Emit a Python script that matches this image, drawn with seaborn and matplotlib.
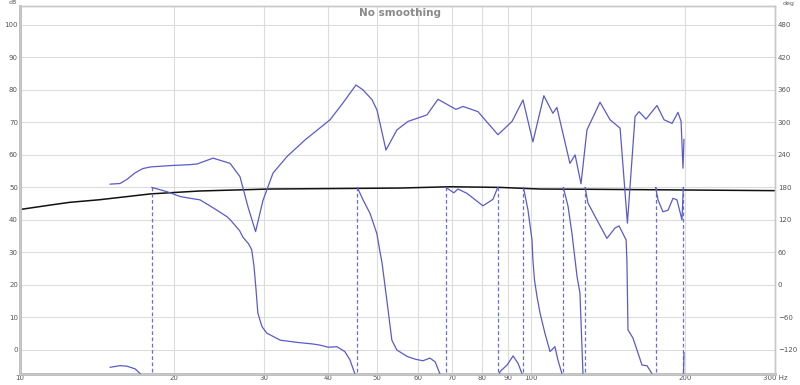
import numpy as np
import pandas as pd
import matplotlib
matplotlib.use("Agg")
import matplotlib.pyplot as plt
from matplotlib.ticker import FixedLocator, FixedFormatter, NullLocator
import seaborn as sns

# SPL response (left axis, dB)
spl_freq = [15.0, 15.7, 16.2, 16.8, 17.4, 18.0, 19.65, 21.5, 22.2, 23.86, 25.76, 26.94,
            27.93, 28.9, 29.88, 31.26, 33.3, 36.11, 40.42, 42.85, 45.43, 46.88, 48.83,
            49.94, 52.0, 54.64, 57.43, 62.56, 65.73, 71.28, 73.57, 78.7, 86.13, 91.75,
            96.41, 100.8, 105.9, 110.3, 112.3, 119.1, 121.9, 125.2, 128.6, 136.4, 142.7,
            149.3, 154.3, 159.7, 162.6, 167.8, 176.3, 182.0, 188.7, 193.8, 196.5, 198.2, 199.1]
spl_db = [51.0, 51.2, 52.5, 54.5, 55.8, 56.3, 56.7, 57.0, 57.2, 59.0, 57.4, 53.3,
          44.0, 36.4, 46.0, 54.4, 59.5, 64.6, 70.8, 76.0, 81.5, 80.0, 77.0,
          73.8, 61.5, 67.7, 70.3, 72.3, 77.1, 74.0, 74.9, 73.3, 66.2, 70.3,
          76.9, 64.0, 78.2, 72.8, 74.6, 57.4, 60.0, 51.1, 67.7, 76.2, 70.8,
          68.2, 39.0, 71.8, 73.3, 71.0, 75.2, 70.8, 69.7, 73.1, 70.3, 55.9, 64.8]

# Target / reference trace (black)
ref_freq = [10.0, 11.5, 12.5, 14.3, 18.0, 22.5, 30.8, 55.4, 69.4, 86.9, 104.1, 136.4, 300.0]
ref_db = [43.2, 44.6, 45.4, 46.2, 48.0, 48.9, 49.5, 49.8, 50.2, 50.0, 49.5, 49.4, 49.0]

# Wrapped phase (right axis, deg); a repeated frequency marks a wrap
phase_freq = [15.0, 15.7, 16.2, 16.8, 17.2, 18.1,
              18.1, 19.4, 20.6, 21.5, 22.5, 23.9, 25.4, 25.8, 26.9, 27.3, 28.0, 28.4, 28.7,
              28.96, 29.2, 29.75, 30.4, 32.3, 34.8, 37.4, 38.6, 40.1, 41.7, 43.2, 44.2, 45.2, 45.7,
              45.7, 46.9, 48.4, 49.9, 50.6, 51.1, 52.2, 53.4, 54.6, 57.2, 59.3, 61.4, 63.4, 64.9, 66.3, 68.1,
              68.1, 70.6, 71.9, 74.9, 80.5, 84.2, 85.7, 86.0,
              86.0, 86.9, 89.7, 92.2, 94.3, 96.0, 96.6,
              96.6, 98.6, 100.4, 100.8, 101.5, 102.7, 104.1, 106.4, 108.9, 111.3, 112.8, 114.9, 115.6,
              115.6, 118.1, 120.2, 121.9, 123.0, 124.6, 126.3, 127.5,
              127.5, 129.2, 134.5, 140.7, 145.9, 148.6, 153.4, 154.0, 154.7, 158.2, 161.1, 164.8, 168.5, 172.4, 175.2,
              175.2, 177.1, 181.1, 185.3, 189.5, 192.9, 197.3, 198.5,
              198.5, 199.1]
phase_deg = [-152, -149, -150, -155, -164, -180,
             180, 172, 163, 160, 157, 142, 126, 120, 100, 88, 76, 65, 34,
             -9, -52, -77, -89, -102, -106, -109, -111, -115, -114, -123, -138, -164, -180,
             180, 157, 132, 95, 62, 40, -28, -102, -120, -132, -137, -140, -135, -142, -164, -180,
             180, 170, 177, 169, 146, 158, 176, 180,
             -180, -160, -148, -131, -145, -164, -180,
             180, 138, 83, 46, 10, -22, -52, -89, -123, -114, -138, -164, -180,
             180, 145, 95, 46, 15, -15, -164, -180,
             180, 151, 120, 86, 105, 109, 83, 40, -83, -98, -120, -148, -149, -164, -180,
             180, 157, 135, 138, 160, 157, 120, 180,
             -180, -125]

wrap_freq = [18.1, 45.7, 68.1, 86.0, 96.6, 115.6, 127.5, 175.2, 198.5]

x_ticks = [10, 20, 30, 40, 50, 60, 70, 80, 90, 100, 200, 300]
x_labels = ["10", "20", "30", "40", "50", "60", "70", "80", "90", "100", "200", "300 Hz"]
db_ticks = list(range(0, 101, 10))
deg_ticks = list(range(-120, 481, 60))

sns.set_style("white")
plt.rcParams['font.family'] = ['DejaVu Sans']

blue = "#5a5acd"
grid_c = "#dcdcdc"
txt_c = "#555555"

fig = plt.figure(figsize=(8, 3.85), dpi=100)
ax = fig.add_axes([20 / 800, 11 / 385, 755 / 800, 368 / 385])
ax2 = ax.twinx()

# wrap markers
for f in wrap_freq:
    ax2.plot([f, f], [180, -200], color="#6b6bdd", lw=0.9, ls=(0, (3, 2)))

df_phase = pd.DataFrame({"f": phase_freq, "deg": phase_deg})
df_phase["seg"] = (df_phase["f"].diff() == 0).cumsum()
sns.lineplot(data=df_phase, x="f", y="deg", units="seg", estimator=None, sort=False,
             color=blue, lw=0.9, ax=ax2, legend=False)

sns.lineplot(x=ref_freq, y=ref_db, color="#111111", lw=1.1, ax=ax, sort=False)
sns.lineplot(x=spl_freq, y=spl_db, color=blue, lw=0.9, ax=ax, sort=False)

ax.set_xscale("log")
ax.set_xlim(10, 300)
ax.set_ylim(-7.4, 105.8)
ax2.set_ylim((-7.4 - 20) * 6, (105.8 - 20) * 6)
ax.set_xlabel("")
ax.set_ylabel("")
ax2.set_ylabel("")

ax.xaxis.set_major_locator(FixedLocator(x_ticks))
ax.xaxis.set_major_formatter(FixedFormatter(x_labels))
ax.xaxis.set_minor_locator(NullLocator())
ax.set_yticks(db_ticks)
ax2.set_yticks(deg_ticks)
ax.grid(True, color=grid_c, lw=0.8)
ax.set_axisbelow(True)

ax.tick_params(length=0, labelsize=5, labelcolor=txt_c, pad=1.5)
ax2.tick_params(length=0, labelsize=5, labelcolor=txt_c, pad=2)
ax.tick_params(axis="x", pad=0.5)
for a in (ax, ax2):
    for s in a.spines.values():
        s.set_color("#c8c8c8")
        s.set_linewidth(1.0)
ax.spines["left"].set_linewidth(2.0)
ax.spines["bottom"].set_linewidth(2.0)
ax.spines["left"].set_color("#b8b8b8")
ax.spines["bottom"].set_color("#b8b8b8")

ax.text(0.503, 0.981, "No smoothing", transform=ax.transAxes, ha="center", va="center",
        fontsize=7.5, fontweight="bold", color="#8a8a8a")
fig.text(13 / 800, 1 - 3 / 385, "dB", ha="center", va="center", fontsize=4.5, color=txt_c)
fig.text(789 / 800, 1 - 3 / 385, "deg", ha="center", va="center", fontsize=4.5, color=txt_c)

fig.savefig("out.png", dpi=100)
